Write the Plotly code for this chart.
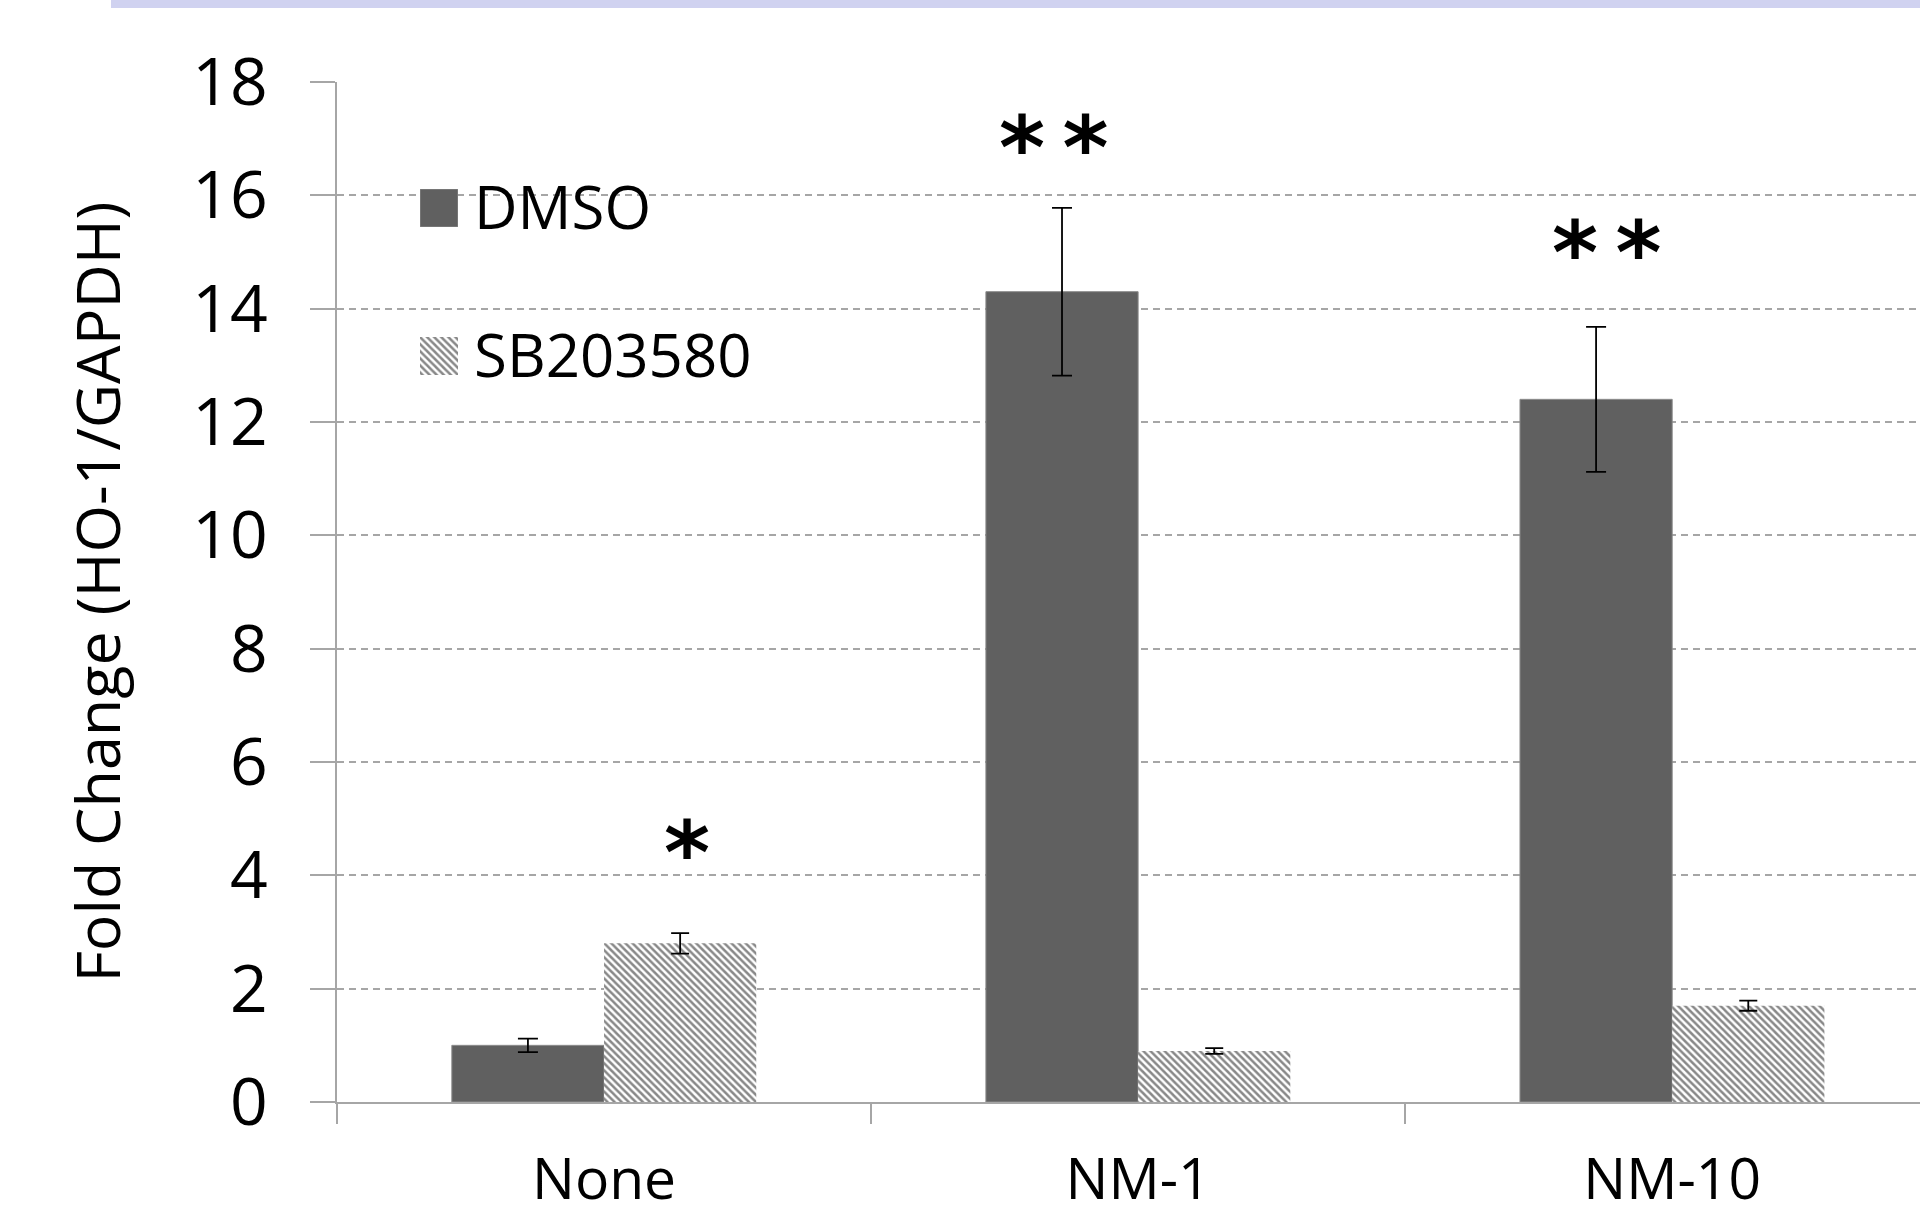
import plotly.graph_objects as go

# ---- data -------------------------------------------------------------
categories = ["None", "NM-1", "NM-10"]
series_names = ["DMSO", "SB203580"]
dmso_values = [1.0, 14.3, 12.4]
dmso_errors = [0.12, 1.48, 1.28]
sb_values = [2.8, 0.9, 1.7]
sb_errors = [0.18, 0.05, 0.09]
y_tick_values = [0, 2, 4, 6, 8, 10, 12, 14, 16, 18]
y_title = "Fold Change (HO-1/GAPDH)"

# significance marks: text, category position, height
sig_text = ["*", "*\u2009*", "*\u2009*"]
sig_x = [0.155, 0.843, 1.878]
sig_y = [4.4, 16.85, 15.0]

# ---- page geometry ----------------------------------------------------
W, H = 1920, 1217
M_L, M_R, M_T, M_B = 337, 0, 82, 115
PW = W - M_L - M_R
PH = H - M_T - M_B

FONT = "Open Sans"
DARK = "#606060"
AXIS_GREY = "#a6a6a6"


def px_x(v):
    return (v - M_L) / PW


def px_y(v):
    return (H - M_B - v) / PH


hatch = dict(shape="\\", fgcolor="#111111", bgcolor="white", size=5, solidity=0.5)

fig = go.Figure()

fig.add_trace(go.Bar(
    name=series_names[0], x=categories, y=dmso_values,
    marker=dict(color=DARK, line=dict(color="#8c8c8c", width=1)),
    error_y=dict(type="data", array=dmso_errors, color="black", thickness=1.8, width=10),
    showlegend=False,
))
fig.add_trace(go.Bar(
    name=series_names[1], x=categories, y=sb_values,
    marker=dict(color="white", pattern=hatch, line=dict(width=0)),
    error_y=dict(type="data", array=sb_errors, color="black", thickness=1.8, width=9),
    showlegend=False,
))

# legend swatches, each drawn as a bar on its own hidden axis pair
sw_x0, sw_x1 = 420, 458
swatches = [(189, 227), (337, 375)]
styles = [
    dict(color=DARK, line=dict(color="#8c8c8c", width=1)),
    dict(color="white", pattern=hatch, line=dict(width=0)),
]
for i, ((top, bot), style) in enumerate(zip(swatches, styles), start=2):
    fig.add_trace(go.Bar(x=[0], y=[1], width=1, marker=style, showlegend=False,
                         hoverinfo="skip", xaxis=f"x{i}", yaxis=f"y{i}"))
    fig.update_layout({
        f"xaxis{i}": dict(domain=[px_x(sw_x0), px_x(sw_x1)], range=[-0.5, 0.5],
                          visible=False, anchor=f"y{i}", fixedrange=True),
        f"yaxis{i}": dict(domain=[px_y(bot), px_y(top)], range=[0, 1],
                          visible=False, anchor=f"x{i}", fixedrange=True),
    })
    fig.add_annotation(text=series_names[i - 2], x=px_x(472), y=px_y((top + bot) / 2 - 2),
                       xref="paper", yref="paper", xanchor="left", yanchor="middle",
                       showarrow=False, font=dict(family=FONT, size=60, color="black"))

for t, x, y in zip(sig_text, sig_x, sig_y):
    fig.add_annotation(text=f"<b>{t}</b>", x=x, y=y, xref="x", yref="y",
                       showarrow=False, xanchor="center", yanchor="middle",
                       font=dict(family="DejaVu Sans", size=88, color="black"))

# lavender band across the top of the page
fig.add_shape(type="rect", xref="paper", yref="paper",
              x0=px_x(111), x1=px_x(W), y0=px_y(8), y1=px_y(-2),
              fillcolor="#d0d2f0", line=dict(width=0), layer="below")

fig.update_layout(
    width=W, height=H,
    margin=dict(l=M_L, r=M_R, t=M_T, b=M_B, pad=0, autoexpand=False),
    paper_bgcolor="white", plot_bgcolor="white",
    barmode="group", bargap=0.43, bargroupgap=0,
    font=dict(family=FONT, color="black"),
    showlegend=False,
    xaxis=dict(
        type="category", range=[-0.5, 2.464], automargin=False,
        showline=True, linecolor=AXIS_GREY, linewidth=2,
        ticks="outside", tickson="boundaries", ticklen=20,
        tickcolor=AXIS_GREY, tickwidth=2,
        showgrid=False, tickfont=dict(size=57, color="black"),
        ticklabelstandoff=27, fixedrange=True,
    ),
    yaxis=dict(
        range=[0, 18], tickvals=y_tick_values, automargin=False,
        showline=True, linecolor=AXIS_GREY, linewidth=2,
        ticks="outside", ticklen=25, tickcolor=AXIS_GREY, tickwidth=2,
        showgrid=True, gridcolor=AXIS_GREY, gridwidth=1.5, griddash="7px,5px",
        zeroline=False, tickfont=dict(size=66, color="black"),
        ticklabelstandoff=29, fixedrange=True,
        title=dict(text=y_title, font=dict(size=61, color="black"), standoff=52),
    ),
)

fig.write_html("out.html")
